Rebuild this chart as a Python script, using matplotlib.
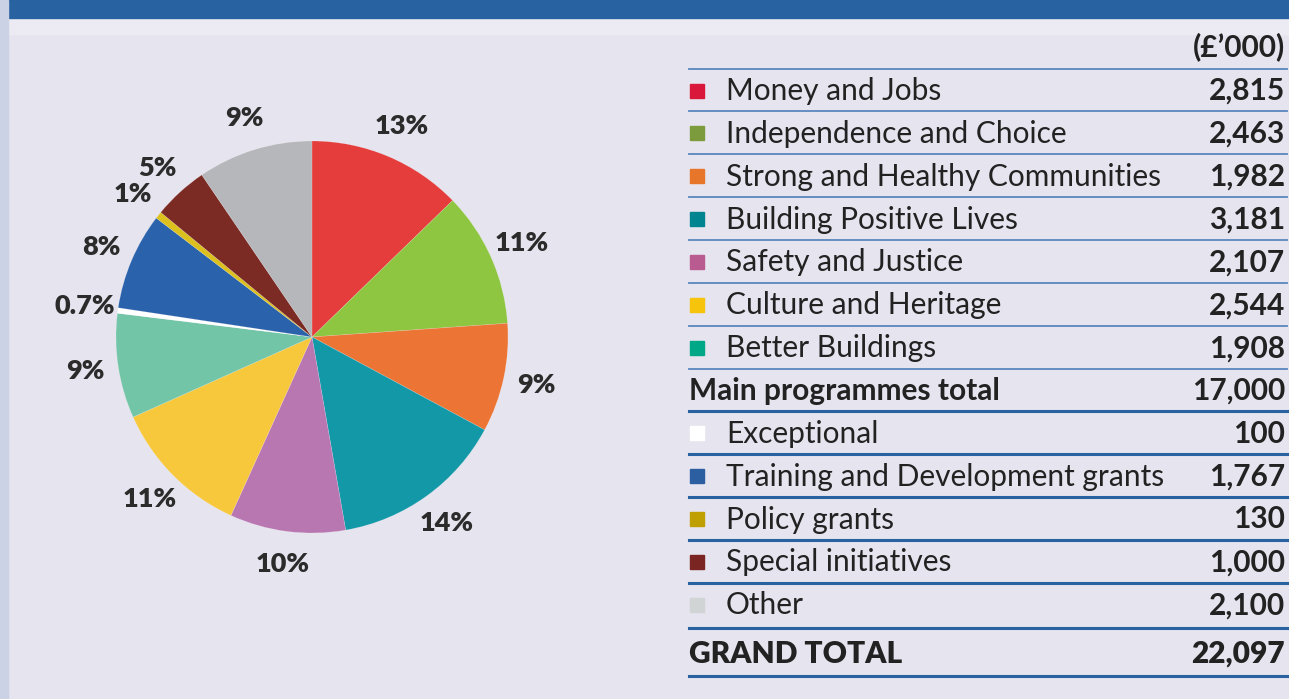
import matplotlib.pyplot as plt
from matplotlib.patches import Rectangle

# donnees
categories = ["Money and Jobs", "Independence and Choice", "Strong and Healthy Communities",
              "Building Positive Lives", "Safety and Justice", "Culture and Heritage",
              "Better Buildings", "Exceptional", "Training and Development grants",
              "Policy grants", "Special initiatives", "Other"]
values = [2815, 2463, 1982, 3181, 2107, 2544, 1908, 100, 1767, 130, 1000, 2100]
pct_labels = ["13%", "11%", "9%", "14%", "10%", "11%", "9%", "0.7%", "8%", "1%", "5%", "9%"]
n_main = 7

pie_colors = ["#e43d3b", "#8ec641", "#ec7434", "#1398a8", "#b977b2", "#f7c83b",
              "#73c5a7", "#ffffff", "#2a62ac", "#dcc01e", "#7b2b24", "#b6b7bb"]
swatch_colors = ["#d9173a", "#7b9b3c", "#e8762a", "#00848f", "#b95a91", "#f5c40b",
                 "#00a887", "#ffffff", "#2b5fa1", "#bfa000", "#7a2522", "#d0d4d4"]

W, H = 1289, 699
bg = "#e6e4ee"
dark_blue = "#2862a0"
txt = "#222222"
font = "Lato"

fig = plt.figure(figsize=(W / 100, H / 100), dpi=100)
fig.patch.set_facecolor(bg)

# fond en coordonnees pixel
ax0 = fig.add_axes([0, 0, 1, 1])
ax0.set_xlim(0, W)
ax0.set_ylim(H, 0)
ax0.axis("off")
ax0.add_patch(Rectangle((0, 0), W, H, color=bg, zorder=0))
ax0.add_patch(Rectangle((8, 18), W, 16, color="#eceaf3", zorder=0))
ax0.add_patch(Rectangle((8, 0), W, 18, color=dark_blue, zorder=1))
ax0.add_patch(Rectangle((0, 0), 8, H, color="#cbd2e6", zorder=1))

################
# camembert
################
cx, cy, r = 312, 337, 196
half = 1.25 * r
axp = fig.add_axes([(cx - half) / W, (H - cy - half) / H, 2 * half / W, 2 * half / H])
wedges, texts = axp.pie(values, colors=pie_colors, startangle=90, counterclock=False,
                        labels=pct_labels, labeldistance=1.17,
                        wedgeprops=dict(linewidth=0.4, edgecolor=(1, 1, 1, 0.25)))
for t in texts:
    t.set_fontsize(19.5)
    t.set_fontweight("heavy")
    t.set_color("#2b2b2b")
    t.set_family(font)
    t.set_ha("center")
    t.set_va("center")
axp.set_xlim(-1.25, 1.25)
axp.set_ylim(-1.25, 1.25)
axp.set_aspect("equal")
axp.axis("off")

################
# tableau
################
x_line0, x_line1 = 689, 1287
x_sw, x_lab, x_val = 690, 726, 1285
fs = 21.5

ax0.text(x_val, 47, "(£\u2019000)", ha="right", va="center", fontsize=fs,
         fontweight="bold", color=txt, family=font)

main_total = sum(values[:n_main])
grand_total = sum(values)

rows = []
for i in range(n_main):
    rows.append((categories[i], values[i], swatch_colors[i], False))
rows.append(("Main programmes total", main_total, None, True))
for i in range(n_main, len(values)):
    rows.append((categories[i], values[i], swatch_colors[i], False))

y0, step = 91, 42.85
for k, (lab, val, col, is_total) in enumerate(rows):
    y = y0 + k * step
    if col is not None:
        ax0.add_patch(Rectangle((x_sw, y - 7.5), 14, 14, color=col, zorder=3))
        ax0.text(x_lab, y, lab, ha="left", va="center", fontsize=fs, color=txt,
                 family=font)
    else:
        ax0.text(x_line0, y, lab, ha="left", va="center", fontsize=fs, color=txt,
                 family=font, fontweight="bold")
    ax0.text(x_val, y, f"{val:,}", ha="right", va="center", fontsize=fs, color=txt,
             family=font, fontweight="bold")
    # ligne au dessus de la rangee
    if k < 8:
        ax0.plot([x_line0, x_line1], [y - 22.4, y - 22.4], color="#5a86bd", lw=1.3, zorder=2)
    else:
        ax0.plot([x_line0, x_line1], [y - 22.4, y - 22.4], color=dark_blue, lw=2.2, zorder=2)

y_last = y0 + (len(rows) - 1) * step
ax0.plot([x_line0, x_line1], [y_last + 22.5, y_last + 22.5], color=dark_blue, lw=2.2, zorder=2)
y_grand = 654
ax0.text(x_line0, y_grand, "GRAND TOTAL", ha="left", va="center", fontsize=fs,
         color=txt, family=font, fontweight="heavy")
ax0.text(x_val, y_grand, f"{grand_total:,}", ha="right", va="center", fontsize=fs,
         color=txt, family=font, fontweight="heavy")
ax0.plot([x_line0, x_line1], [676, 676], color=dark_blue, lw=2.2, zorder=2)

fig.savefig("out.png", dpi=100, facecolor=bg)
